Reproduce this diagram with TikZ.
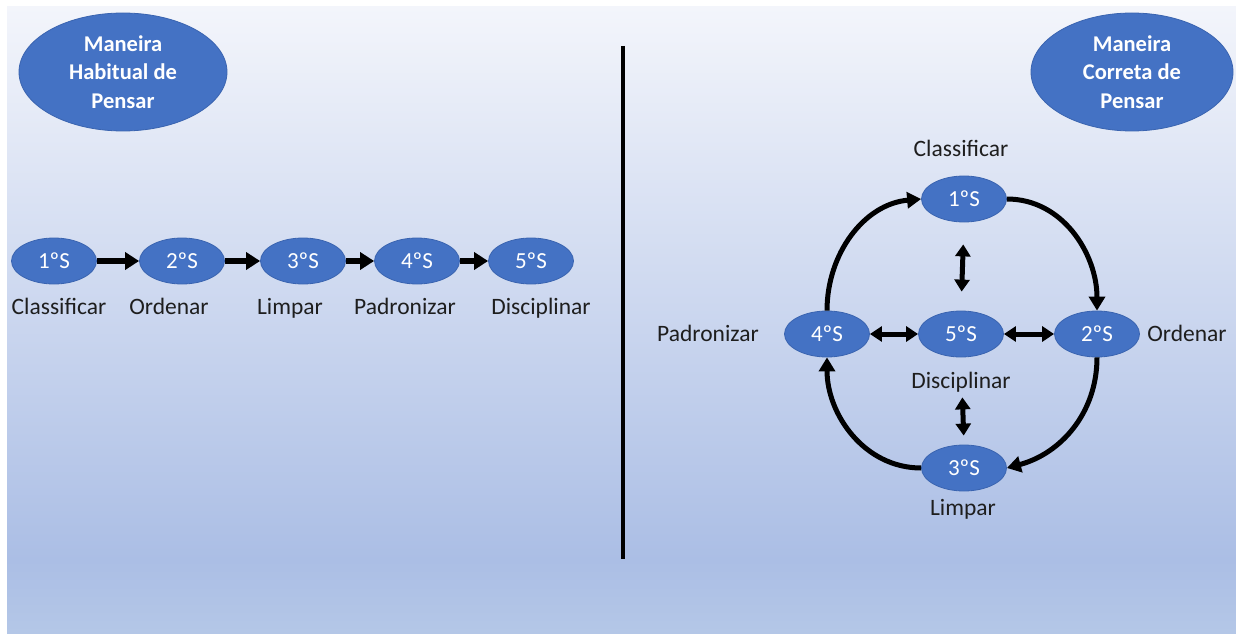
\documentclass[tikz,border=0pt]{standalone}
\usepackage{fontspec}
\setmainfont{Carlito}
\usetikzlibrary{shapes.geometric,arrows.meta}
\definecolor{topbg}{HTML}{F3F5FB}
\definecolor{midbg}{HTML}{ABBEE5}
\definecolor{botbg}{HTML}{B4C7E7}
\definecolor{ellfill}{HTML}{4472C4}
\definecolor{ellline}{HTML}{3A64B0}
\definecolor{lbl}{HTML}{1E1E1E}
\begin{document}
\begin{tikzpicture}[x=1pt,y=1pt,
  sbox/.style={ellipse, fill=ellfill, draw=ellline, line width=0.8pt, minimum width=85pt, minimum height=46pt, inner sep=0pt, text=white, font=\fontsize{23}{26}\selectfont},
  titlebox/.style={ellipse, fill=ellfill, draw=ellline, line width=0.8pt, minimum height=118pt, inner sep=0pt, text=white, align=center, font=\fontsize{22.5}{28.5}\selectfont\bfseries},
  lab/.style={text=lbl, inner sep=0pt, anchor=base, font=\fontsize{23.5}{26}\selectfont},
  arr/.style={line width=5.5pt, -{Triangle[length=14pt,width=17pt]}},
  carr/.style={line width=5pt, -{Triangle[length=14pt,width=16pt]}},
  darr/.style={line width=5pt, {Triangle[length=12pt,width=15pt]}-{Triangle[length=12pt,width=15pt]}}
]
\useasboundingbox (0,0) rectangle (1236,633);
\fill[white] (0,0) rectangle (1236,633);
\shade[top color=topbg, bottom color=midbg] (7,73) rectangle (1236,626);
\shade[top color=midbg, bottom color=botbg] (7,0) rectangle (1236,73.5);

% divider
\coordinate (vt) at (623,587);
\coordinate (vb) at (623,74);
\draw[line width=4pt] (vt) -- (vb);

% titles
\node[titlebox, minimum width=208pt] (t1) at (123,561) {Maneira\\Habitual de\\Pensar};
\node[titlebox, minimum width=202pt] (t2) at (1132,561) {Maneira\\Correta de\\Pensar};

% left row
\node[sbox] (a1) at (54,372) {1ºS};
\node[sbox] (a2) at (182,372) {2ºS};
\node[sbox] (a3) at (303,372) {3ºS};
\node[sbox] (a4) at (417,372) {4ºS};
\node[sbox] (a5) at (531,372) {5ºS};
\node[lab] (la1) at (59,319) {Classificar};
\node[lab] (la2) at (169,319) {Ordenar};
\node[lab] (la3) at (290,319) {Limpar};
\node[lab] (la4) at (405,319) {Padronizar};
\node[lab] (la5) at (541,319) {Disciplinar};
\draw[arr] (a1) -- (a2);
\draw[arr] (a2) -- (a3);
\draw[arr] (a3) -- (a4);
\draw[arr] (a4) -- (a5);

% right cycle
\node[sbox] (b1) at (964,434) {1ºS};
\node[sbox] (b5) at (961,299) {5ºS};
\node[sbox] (b4) at (827,299) {4ºS};
\node[sbox] (b2) at (1097,299) {2ºS};
\node[sbox] (b3) at (964,165) {3ºS};
\node[lab] (lb1) at (961,476) {Classificar};
\node[lab] (lb4) at (708,292) {Padronizar};
\node[lab] (lb2) at (1187,292) {Ordenar};
\node[lab] (lb5) at (961,245) {Disciplinar};
\node[lab] (lb3) at (963,118) {Limpar};

\draw[carr] (b4.north) to[out=90,in=185] (b1.west);
\draw[carr] (b1.east) to[out=0,in=90] (b2.north);
\draw[carr] (b2.south) to[out=-90,in=15] (b3.east);
\draw[carr] (b3.west) to[out=180,in=-90] (b4.south);

\draw[darr] (b4) -- (b5);
\draw[darr] (b5) -- (b2);
\draw[darr, shorten <=22pt, shorten >=19pt] (b1.south) -- (b5.north);
\draw[darr, shorten <=40pt, shorten >=9pt] (b5.south) -- (b3.north);
\end{tikzpicture}
\end{document}
